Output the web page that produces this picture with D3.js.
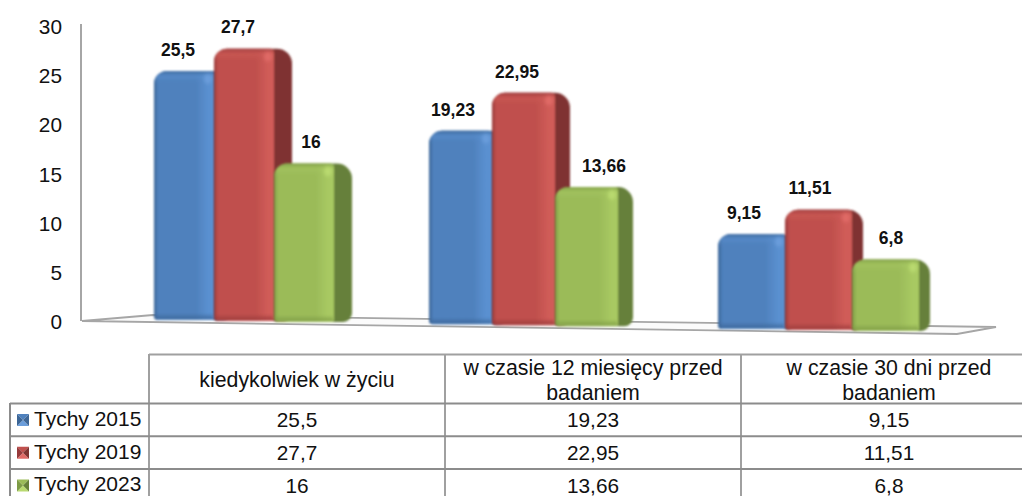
<!DOCTYPE html>
<html>
<head>
<meta charset="utf-8">
<script src="https://cdn.jsdelivr.net/npm/d3@7"></script>
<style>
  html, body { margin: 0; padding: 0; background: #fff; }
  svg { display: block; }
  text { font-family: "Liberation Sans", Arial, sans-serif; fill: #111; }
</style>
</head>
<body>
<div id="chart"></div>
<script>
// chart data
const categories = ["kiedykolwiek w życiu", "w czasie 12 miesięcy przed badaniem", "w czasie 30 dni przed badaniem"];
const series = ["Tychy 2015", "Tychy 2019", "Tychy 2023"];
const tychy2015 = [25.5, 19.23, 9.15];
const tychy2019 = [27.7, 22.95, 11.51];
const tychy2023 = [16, 13.66, 6.8];
const seriesValues = [tychy2015, tychy2019, tychy2023];
const yTicks = [0, 5, 10, 15, 20, 25, 30];

const colors = [
  { main: "#4f81bd", dark: "#3b6596", side: "#3f6797", light: "#5a90d0", glow: "#6a9ddb" },
  { main: "#c0504d", dark: "#97393a", side: "#7f3330", light: "#d05c58", glow: "#e06a66" },
  { main: "#9bbb59", dark: "#7d9b45", side: "#66803a", light: "#a8c962", glow: "#b9da70" }
];

const width = 1022, height = 496;
const fmt = v => String(v).replace(".", ",");

const svg = d3.select("#chart").append("svg")
  .attr("width", width)
  .attr("height", height);
const defs = svg.append("defs");

const blur = defs.append("filter").attr("id", "soft")
  .attr("x", "-50%").attr("y", "-50%").attr("width", "200%").attr("height", "200%");
blur.append("feGaussianBlur").attr("stdDeviation", 1.6);
const slight = defs.append("filter").attr("id", "slight")
  .attr("x", "-5%").attr("y", "-5%").attr("width", "110%").attr("height", "110%");
slight.append("feGaussianBlur").attr("stdDeviation", 0.8);

// value axis
const y = d3.scaleLinear().domain([0, 30]).range([321, 26]);
svg.append("g")
  .attr("transform", "translate(81,0)")
  .call(d3.axisLeft(y).tickValues(yTicks).tickSize(0).tickPadding(19))
  .call(g => g.select(".domain").attr("stroke", "#a6a6a6").attr("stroke-width", 2)
    .attr("d", "M0,24V321"))
  .call(g => g.selectAll("text").style("font-size", "20.8px").attr("dy", "0.36em"));

// floor of the 3D chart
svg.append("path")
  .attr("d", "M82,321 L153,315 L996,327 L957,334 Z")
  .attr("fill", "#fbfbfb")
  .attr("stroke", "#a6a6a6")
  .attr("stroke-width", 1.8);

// the bars get a bit bigger towards the right, like the perspective in the picture
const groupX = d3.scaleLinear().domain([0, 1, 2]).range([154, 429, 718]);
const faceWidth = d3.scaleLinear().domain([0, 1, 2]).range([60, 63, 67]);
const barWidth = 78;
const floorY = d3.scaleLinear().domain([154, 853]).range([320, 331]);
const depth = b => 1 + (b - 321) * 0.007;

// label nudges, the originals are not centred the same way on every bar
const labelDx = [[24, 24, 37], [24, 25, 49], [26, 25, 39]];

// gradients for each series
colors.forEach((c, i) => {
  const h = defs.append("linearGradient").attr("id", "face" + i);
  h.append("stop").attr("offset", "0%").attr("stop-color", c.dark);
  h.append("stop").attr("offset", "7%").attr("stop-color", c.main);
  h.append("stop").attr("offset", "70%").attr("stop-color", c.main);
  h.append("stop").attr("offset", "90%").attr("stop-color", c.light);
  h.append("stop").attr("offset", "100%").attr("stop-color", c.light);
  const t = defs.append("linearGradient").attr("id", "cap" + i)
    .attr("x1", 0).attr("x2", 0).attr("y1", 0).attr("y2", 1);
  t.append("stop").attr("offset", "0%").attr("stop-color", c.dark).attr("stop-opacity", 0.75);
  t.append("stop").attr("offset", "40%").attr("stop-color", c.light).attr("stop-opacity", 0.45);
  t.append("stop").attr("offset", "100%").attr("stop-color", c.main).attr("stop-opacity", 0);
  const b = defs.append("linearGradient").attr("id", "foot" + i)
    .attr("x1", 0).attr("x2", 0).attr("y1", 0).attr("y2", 1);
  b.append("stop").attr("offset", "0%").attr("stop-color", c.dark).attr("stop-opacity", 0);
  b.append("stop").attr("offset", "100%").attr("stop-color", c.dark).attr("stop-opacity", 0.8);
});

// rl, rr = radius of the top corners, bl, br = radius of the bottom corners
function barPath(x, top, w, bottom, rl, rr, bl, br) {
  return `M${x},${bottom - bl}V${top + rl}A${rl},${rl} 0 0 1 ${x + rl},${top}` +
    `H${x + w - rr}A${rr},${rr} 0 0 1 ${x + w},${top + rr}V${bottom - br}` +
    `A${br},${br} 0 0 1 ${x + w - br},${bottom}H${x + bl}A${bl},${bl} 0 0 1 ${x},${bottom - bl}Z`;
}

const bars = [];
seriesValues.forEach((values, s) => {
  values.forEach((v, c) => {
    const fw = faceWidth(c);
    const x = groupX(c) + s * fw;
    const bottom = floorY(x);
    const top = bottom - (y(0) - y(v)) * depth(bottom);
    bars.push({ s, c, v, x, fw, bottom, top });
  });
});

const barG = svg.append("g").selectAll("g").data(bars).join("g")
  .attr("filter", "url(#slight)");

// side of the bar first, then the front face on top of it
barG.append("path")
  .attr("d", d => barPath(d.x, d.top, barWidth, d.bottom, 13, 15, 4, 9))
  .attr("fill", d => colors[d.s].side);
barG.append("path")
  .attr("d", d => barPath(d.x, d.top, d.fw, d.bottom, 13, 4, 4, 2))
  .attr("fill", d => `url(#face${d.s})`);
barG.append("path")
  .attr("d", d => barPath(d.x, d.top, d.fw, d.top + 14, 13, 4, 0, 0))
  .attr("fill", d => `url(#cap${d.s})`);
barG.append("rect")
  .attr("x", d => d.x + 1)
  .attr("y", d => d.bottom - 7)
  .attr("width", d => d.fw - 2)
  .attr("height", 6)
  .attr("fill", d => `url(#foot${d.s})`);
barG.append("ellipse")
  .attr("cx", d => d.x + d.fw - 6)
  .attr("cy", d => d.top + 8)
  .attr("rx", 4)
  .attr("ry", 5)
  .attr("fill", d => colors[d.s].glow)
  .attr("filter", "url(#soft)");

// data labels
svg.append("g").selectAll("text").data(bars).join("text")
  .attr("x", d => d.x + labelDx[d.c][d.s])
  .attr("y", d => d.top - 21.5)
  .attr("dy", "0.36em")
  .attr("text-anchor", "middle")
  .style("font-size", "17.5px")
  .style("font-weight", "bold")
  .text(d => fmt(d.v));

// data table under the chart
const col = d3.scaleBand().domain(categories).range([149, 1037]);
const row = d3.scaleBand().domain(series).range([403.5, 501.75]);
const table = svg.append("g");

const gridLine = (x1, y1, x2, y2, color) => table.append("line")
  .attr("x1", x1).attr("y1", y1).attr("x2", x2).attr("y2", y2)
  .attr("stroke", color).attr("stroke-width", 2);

gridLine(149, 354.5, width, 354.5, "#a0a0a0");
categories.forEach(c => gridLine(col(c), 354, col(c), height, "#a0a0a0"));
series.forEach(s => gridLine(10, row(s), width, row(s), "#8c8c8c"));
gridLine(10, 403, 10, height, "#8c8c8c");

// header cells, long names break on two lines
const headerLines = [["kiedykolwiek w życiu"], ["w czasie 12 miesięcy przed", "badaniem"], ["w czasie 30 dni przed", "badaniem"]];
categories.forEach((c, i) => {
  const lines = headerLines[i];
  table.selectAll(null).data(lines).join("text")
    .attr("x", col(c) + col.bandwidth() / 2)
    .attr("y", (d, k) => lines.length === 1 ? 379.5 : 367.5 + k * 24.5)
    .attr("dy", "0.36em")
    .attr("text-anchor", "middle")
    .style("font-size", "21.3px")
    .text(d => d);
});

// value cells and legend keys
series.forEach((s, i) => {
  const cy = row(s) + row.bandwidth() / 2;
  table.append("text")
    .attr("x", 34).attr("y", cy - 1.5).attr("dy", "0.36em")
    .style("font-size", "21px")
    .text(s);

  const kx = 17, ky = cy - 6, k = 12, c = colors[i];
  const tri = (p, fill) => table.append("path").attr("d", "M" + p.join("L") + "Z").attr("fill", fill);
  const mid = [kx + k / 2, ky + k / 2];
  tri([[kx, ky], [kx + k, ky], mid], c.main);
  tri([[kx, ky + k], [kx + k, ky + k], mid], c.glow);
  tri([[kx, ky], [kx, ky + k], mid], c.dark);
  tri([[kx + k, ky], [kx + k, ky + k], mid], c.side);

  seriesValues[i].forEach((v, j) => {
    table.append("text")
      .attr("x", col(categories[j]) + col.bandwidth() / 2)
      .attr("y", cy)
      .attr("dy", "0.36em")
      .attr("text-anchor", "middle")
      .style("font-size", "20.8px")
      .text(fmt(v));
  });
});
</script>
</body>
</html>
